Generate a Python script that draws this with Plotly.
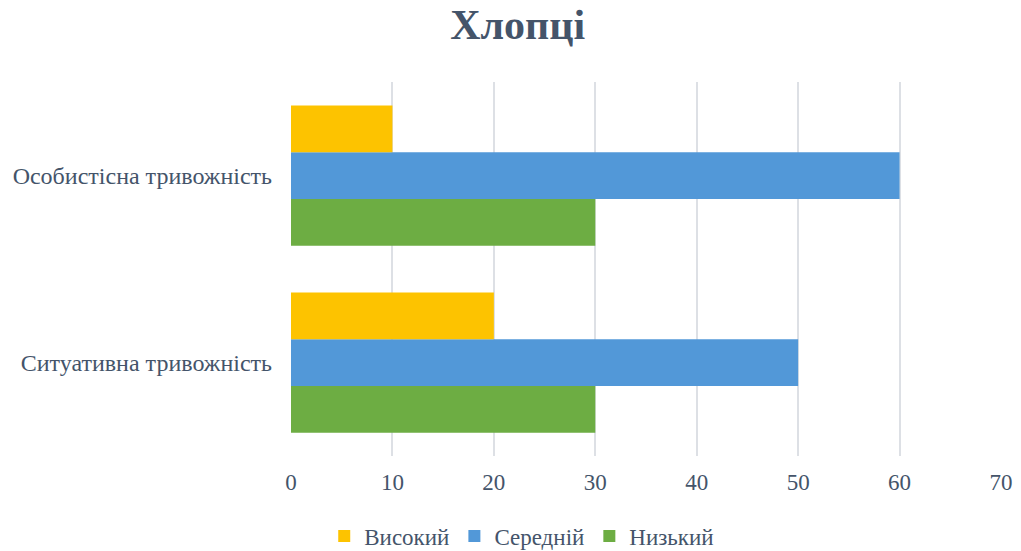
import plotly.graph_objects as go

# categories (bottom to top) and series values
categories = ['Ситуативна тривожність', 'Особистісна тривожність']
vysokyi = [20, 10]
serednii = [50, 60]
nyzkyi = [30, 30]

text_color = '#44546A'
font_family = 'Liberation Serif'

fig = go.Figure()
# added bottom-up so that Високий ends up on top inside each group
fig.add_trace(go.Bar(y=categories, x=nyzkyi, name='Низький', orientation='h',
                     marker=dict(color='#6DAD43', line=dict(width=0))))
fig.add_trace(go.Bar(y=categories, x=serednii, name='Середній', orientation='h',
                     marker=dict(color='#5298D8', line=dict(width=0))))
fig.add_trace(go.Bar(y=categories, x=vysokyi, name='Високий', orientation='h',
                     marker=dict(color='#FDC300', line=dict(width=0))))

fig.update_layout(
    width=1021, height=551,
    paper_bgcolor='white', plot_bgcolor='white',
    barmode='group', bargap=0.25, bargroupgap=0,
    margin=dict(l=291, r=20, t=82, b=95),
    font=dict(family=font_family, color=text_color),
    title=dict(text='<b>Хлопці</b>', x=0.507, xanchor='center', y=0.955, yanchor='middle',
               font=dict(size=42, color=text_color, family=font_family)),
    xaxis=dict(range=[0, 70], dtick=10, showgrid=True, gridcolor='#DDE0E5', gridwidth=1.5,
               zeroline=False, showline=False, ticks='', ticklabelstandoff=10,
               automargin=False,
               tickfont=dict(size=23, color=text_color, family=font_family)),
    yaxis=dict(showgrid=False, zeroline=False, showline=False, ticks='',
               ticklabelstandoff=18, automargin=False,
               tickfont=dict(size=24, color=text_color, family=font_family)),
    legend=dict(orientation='h', traceorder='reversed', xref='container', x=0.511,
                xanchor='center', yref='container', y=0.027, yanchor='middle',
                font=dict(size=23, color=text_color, family=font_family),
                itemwidth=30),
)

fig.write_html('out.html', config={'displayModeBar': False},
               post_script="document.body.style.margin='0';")
